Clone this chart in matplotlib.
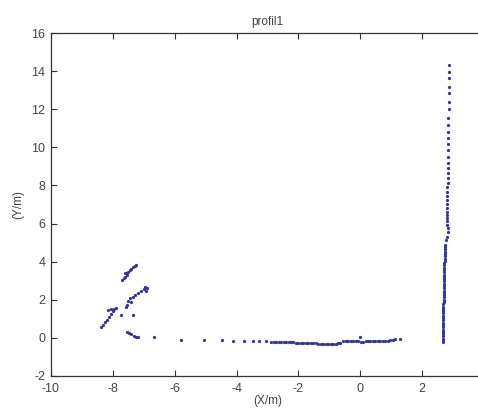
import matplotlib
matplotlib.use("Agg")
import matplotlib.pyplot as plt

plt.rcParams['font.family'] = ['Liberation Sans', 'DejaVu Sans']
plt.rcParams['axes.unicode_minus'] = False

title = "profil1"
xlabel = "(X/m)"
ylabel = "(Y/m)"
xticks = [-10, -8, -6, -4, -2, 0, 2]
yticks = [-2, 0, 2, 4, 6, 8, 10, 12, 14, 16]

# left cluster
cluster_x = [-7.69, -7.64, -7.60, -7.55, -7.50, -7.45, -7.40, -7.35, -7.30, -7.26, -7.62, -7.57,
             -7.53, -7.50, -7.45, -7.36, -7.30, -7.20, -7.10, -7.00, -6.95, -6.90, -6.92, -7.40, -7.58,
             -8.39, -8.33, -8.27, -8.20, -8.12, -8.05, -7.98, -7.90, -8.17, -8.06, -7.95,
             -7.74, -7.36,
             -7.53, -7.48, -7.42, -7.33, -7.25, -7.20, -6.67]
cluster_y = [3.04, 3.13, 3.22, 3.30, 3.45, 3.55, 3.62, 3.70, 3.78, 3.83, 3.40, 3.38,
             1.73, 1.95, 2.10, 2.17, 2.25, 2.35, 2.45, 2.55, 2.69, 2.60, 2.45, 1.90, 1.64,
             0.59, 0.70, 0.82, 0.95, 1.10, 1.25, 1.40, 1.56, 1.47, 1.50, 1.50,
             1.21, 1.21,
             0.33, 0.25, 0.18, 0.12, 0.07, 0.05, 0.07]

# ground line
ground_x = [-5.80, -5.06, -4.48, -4.10, -3.77, -3.48, -3.29, -3.06, -2.90,
            -2.80, -2.72, -2.64, -2.56, -2.48, -2.40, -2.32, -2.24, -2.16, -2.08, -2.00, -1.92, -1.84, -1.76,
            -1.68, -1.60, -1.52, -1.44, -1.36, -1.28, -1.20, -1.12, -1.04, -0.96, -0.88, -0.80, -0.72, -0.64,
            -0.55, -0.47, -0.39, -0.31, -0.23, -0.15, -0.07, 0.01, 0.09, 0.17, 0.25, 0.33, 0.41, 0.49,
            0.57, 0.65, 0.73, 0.81, 0.89, 0.97, 1.05, 1.13, 1.30, 0.00]
ground_y = [-0.10, -0.12, -0.13, -0.14, -0.15, -0.17, -0.18, -0.18, -0.19,
            -0.20, -0.21, -0.21, -0.22, -0.22, -0.23, -0.23, -0.24, -0.24, -0.25, -0.25, -0.26, -0.26, -0.27,
            -0.27, -0.28, -0.28, -0.29, -0.30, -0.30, -0.31, -0.31, -0.32, -0.32, -0.31, -0.30, -0.28, -0.26,
            -0.18, -0.18, -0.17, -0.17, -0.17, -0.18, -0.18, -0.19, -0.19, -0.18, -0.18, -0.17, -0.17, -0.16,
            -0.16, -0.15, -0.15, -0.14, -0.14, -0.12, -0.10, -0.08, -0.08, 0.07]

# wall (vertical line)
wall_x = [2.88, 2.88, 2.87, 2.87, 2.87, 2.86, 2.86, 2.85, 2.85, 2.85, 2.84, 2.84, 2.84, 2.83, 2.83,
          2.83, 2.82, 2.82, 2.82, 2.81, 2.81, 2.81, 2.80, 2.80, 2.80, 2.80, 2.80, 2.80, 2.80, 2.81,
          2.82, 2.84, 2.80, 2.76,
          2.74, 2.74, 2.74, 2.73, 2.73, 2.73, 2.73, 2.73, 2.72, 2.72, 2.72, 2.72, 2.72, 2.71, 2.71,
          2.71, 2.71, 2.71, 2.71, 2.70, 2.70, 2.70, 2.70, 2.70, 2.70, 2.70, 2.69, 2.69, 2.69, 2.69,
          2.69, 2.69, 2.68, 2.68, 2.68, 2.68, 2.68, 2.68, 2.67, 2.67, 2.67, 2.67, 2.67, 2.67]
wall_y = [14.32, 13.97, 13.62, 13.18, 12.83, 12.40, 12.00, 11.52, 11.17, 10.82, 10.47, 10.16, 9.86,
          9.51, 9.20, 8.90, 8.64, 8.38, 8.15, 7.91, 7.68, 7.45, 7.24, 7.03, 6.81, 6.63, 6.45, 6.28,
          6.11, 5.93, 5.76, 5.58, 5.32, 5.14,
          4.88, 4.76, 4.64, 4.52, 4.40, 4.28, 4.16, 4.04, 3.92, 3.80, 3.68, 3.56, 3.44, 3.32, 3.20,
          3.08, 2.96, 2.84, 2.72, 2.60, 2.48, 2.36, 2.24, 2.12, 2.00, 1.88, 1.76, 1.64, 1.52, 1.40,
          1.28, 1.16, 1.04, 0.92, 0.80, 0.68, 0.56, 0.44, 0.32, 0.20, 0.08, -0.04, -0.12, -0.19]

fig = plt.figure(figsize=(4.78, 4.08), dpi=100)
ax = fig.add_axes([51/478, 32/408, 433/478, 343/408])
col = '#34349e'
for xs, ys in [(cluster_x, cluster_y), (ground_x, ground_y), (wall_x, wall_y)]:
    ax.plot(xs, ys, linestyle='none', marker='.', markersize=2.6, color=col)

ax.set_xlim(-10, 4)
ax.set_ylim(-2, 16)
ax.set_xticks(xticks)
ax.set_yticks(yticks)
ax.tick_params(direction='in', length=4, width=0.8, top=True, right=True,
               labelsize=9, labelcolor='#444444', color='#333333')
ax.tick_params(axis='x', pad=5)
ax.tick_params(axis='y', pad=4)
for s in ax.spines.values():
    s.set_color('#333333')
    s.set_linewidth(0.9)
ax.set_title(title, fontsize=8.5, color='#444444', pad=6)
ax.set_xlabel(xlabel, fontsize=8.5, color='#444444', labelpad=0)
ax.set_ylabel(ylabel, fontsize=8.5, color='#444444', labelpad=5)
fig.savefig('out.png', dpi=100)
